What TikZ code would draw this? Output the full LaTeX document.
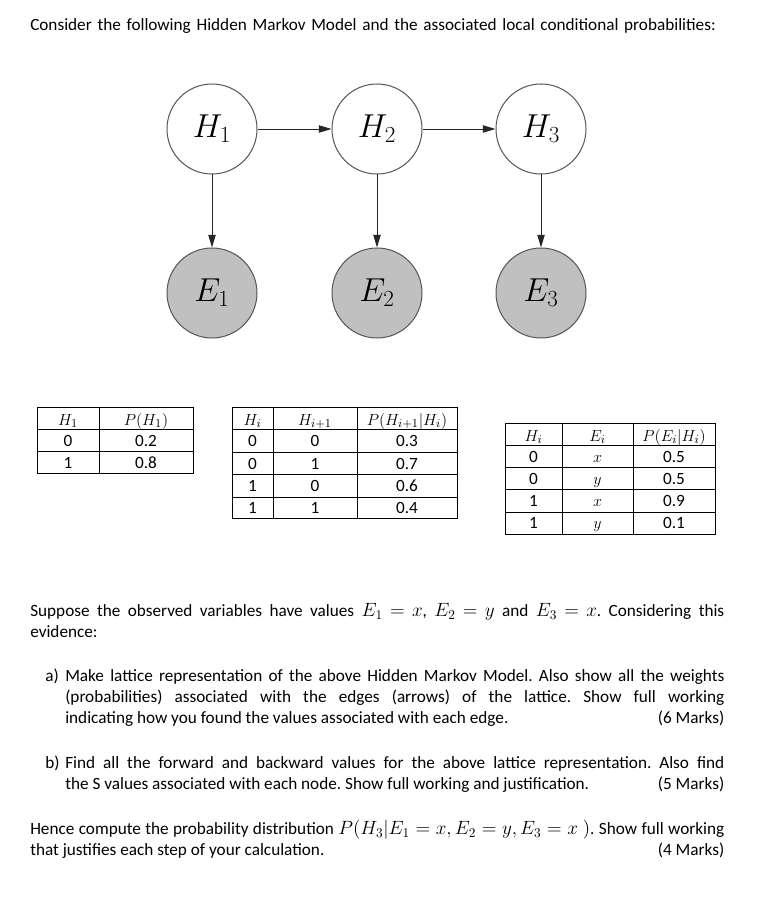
\documentclass[tikz,border=0pt]{standalone}
\usepackage{fontspec}
\setmainfont{Carlito}
\usetikzlibrary{arrows.meta}
\definecolor{efill}{HTML}{C0C0C0}
\definecolor{edge}{HTML}{555555}
\newcommand\mm[1]{{\fontsize{14.2pt}{15.75pt}\selectfont$#1$}}
\newcommand\tm[1]{{\fontsize{13pt}{15pt}\selectfont$#1$}}
\frenchspacing
\thickmuskip=5mu plus 1mu
\medmuskip=4mu plus 1mu minus 4mu
\begin{document}
\begin{tikzpicture}[x=0.75pt,y=-0.75pt,
  every node/.style={inner sep=0pt},
  body/.style={font=\fontsize{12.9pt}{15.75pt}\selectfont\frenchspacing, anchor=north west, align=justify},
  hnode/.style={circle, draw=edge, line width=0.75pt, minimum size=67.5pt, fill=white,
    font=\fontsize{25pt}{29pt}\selectfont},
  enode/.style={hnode, fill=efill},
  conn/.style={draw=black!85, line width=0.7pt, -{Triangle[length=9.5pt,width=5.5pt]}},
  cell/.style={anchor=base, font=\fontsize{12.9pt}{14pt}\selectfont},
  rule/.style={line width=0.75pt, black}]
\useasboundingbox (0,0) rectangle (766,912);

% title
\node[body, text width=700pt, align=left] (title) at (30,15.3) {\strut Consider the following Hidden Markov Model and the associated local conditional probabilities:};

% HMM
\node[hnode] (H1) at (212,129) {$H_1$};
\node[hnode] (H2) at (377,129) {$H_2$};
\node[hnode] (H3) at (541,129) {$H_3$};
\node[enode] (E1) at (212,293) {$E_1$};
\node[enode] (E2) at (377,293) {$E_2$};
\node[enode] (E3) at (541,293) {$E_3$};
\draw[conn] (H1) -- (H2);
\draw[conn] (H2) -- (H3);
\draw[conn] (H1) -- (E1);
\draw[conn] (H2) -- (E2);
\draw[conn] (H3) -- (E3);

% table 1
\draw[rule] (37,407) rectangle (193,473);
\draw[rule] (37,429) -- (193,429);
\draw[rule] (37,451) -- (193,451);
\draw[rule] (99,407) -- (99,473);
\node[cell] (t1h1) at (68,425) {\tm{H_1}};
\node[cell] (t1h2) at (146,425) {\tm{P(H_1)}};
\node[cell] (t1a1) at (68,446) {0};
\node[cell] (t1a2) at (146,446) {0.2};
\node[cell] (t1b1) at (68,468) {1};
\node[cell] (t1b2) at (146,468) {0.8};

% table 2
\draw[rule] (232,407) rectangle (457,518);
\foreach \yy in {429,452,474,497} \draw[rule] (232,\yy) -- (457,\yy);
\draw[rule] (273,407) -- (273,518);
\draw[rule] (357,407) -- (357,518);
\node[cell] (t2h1) at (252.5,425) {\tm{H_i}};
\node[cell] (t2h2) at (315,425) {\tm{H_{i+1}}};
\node[cell] (t2h3) at (407,425) {\tm{P(H_{i+1}|H_i)}};
\node[cell] (t2a1) at (252.5,446) {0};
\node[cell] (t2a2) at (315,446) {0};
\node[cell] (t2a3) at (407,446) {0.3};
\node[cell] (t2b1) at (252.5,469) {0};
\node[cell] (t2b2) at (315,469) {1};
\node[cell] (t2b3) at (407,469) {0.7};
\node[cell] (t2c1) at (252.5,491) {1};
\node[cell] (t2c2) at (315,491) {0};
\node[cell] (t2c3) at (407,491) {0.6};
\node[cell] (t2d1) at (252.5,513) {1};
\node[cell] (t2d2) at (315,513) {1};
\node[cell] (t2d3) at (407,513) {0.4};

% table 3
\draw[rule] (505,423) rectangle (715,534);
\foreach \yy in {445,467,489,512} \draw[rule] (505,\yy) -- (715,\yy);
\draw[rule] (562,423) -- (562,534);
\draw[rule] (633,423) -- (633,534);
\node[cell] (t3h1) at (533.5,441) {\tm{H_i}};
\node[cell] (t3h2) at (597.5,441) {\tm{E_i}};
\node[cell] (t3h3) at (674,441) {\tm{P(E_i|H_i)}};
\node[cell] (t3a1) at (533.5,462) {0};
\node[cell] (t3a2) at (597.5,462) {\tm{x}};
\node[cell] (t3a3) at (674,462) {0.5};
\node[cell] (t3b1) at (533.5,484) {0};
\node[cell] (t3b2) at (597.5,484) {\tm{y}};
\node[cell] (t3b3) at (674,484) {0.5};
\node[cell] (t3c1) at (533.5,506) {1};
\node[cell] (t3c2) at (597.5,506) {\tm{x}};
\node[cell] (t3c3) at (674,506) {0.9};
\node[cell] (t3d1) at (533.5,528) {1};
\node[cell] (t3d2) at (597.5,528) {\tm{y}};
\node[cell] (t3d3) at (674,528) {0.1};

% text
\node[body, text width=520.5pt] (sup) at (30,601.3) {\strut Suppose the observed variables have values \mm{E_1=x}, \mm{E_2=y} and \mm{E_3=x}. Considering this\linebreak evidence:};

\node[body, anchor=north west, align=left] (la) at (45,667) {\strut a)};
\node[body, text width=494.25pt] (pa) at (65,667) {\strut Make lattice representation of the above Hidden Markov Model. Also show all the weights\linebreak (probabilities) associated with the edges (arrows) of the lattice. Show full working\linebreak indicating how you found the values associated with each edge.\nobreak\hfill\nobreak(6 Marks)};

\node[body, anchor=north west, align=left] (lb) at (45,754) {\strut b)};
\node[body, text width=494.25pt] (pb) at (65,754) {\strut Find all the forward and backward values for the above lattice representation. Also find\linebreak the S values associated with each node. Show full working and justification.\nobreak\hfill\nobreak(5 Marks)};

\node[body, text width=520.5pt] (hence) at (30,820) {\strut Hence compute the probability distribution \mm{P(H_3|E_1=x,E_2=y,E_3=x\ )}. Show full working\linebreak that justifies each step of your calculation.\nobreak\hfill\nobreak(4 Marks)};
\end{tikzpicture}
\end{document}
